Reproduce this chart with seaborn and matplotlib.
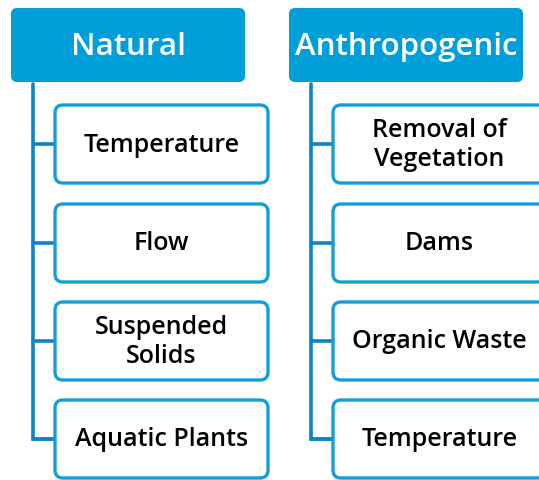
import matplotlib
matplotlib.use("Agg")
import matplotlib.pyplot as plt
import seaborn as sns
from matplotlib.patches import FancyBboxPatch

# groups and their items
groups = ["Natural", "Anthropogenic"]
natural_items = ["Temperature", "Flow", "Suspended\nSolids", "Aquatic Plants"]
anthro_items = ["Removal of\nVegetation", "Dams", "Organic Waste", "Temperature"]

HEAD_BLUE = "#009fda"
LINE_BLUE = "#0a86c2"
BOX_EDGE = "#149ed9"

sns.set_theme(style="white")
plt.rcParams['font.family'] = ['Open Sans', 'DejaVu Sans']

fig = plt.figure(figsize=(5.39, 4.80), dpi=100)
ax = fig.add_axes([0, 0, 1, 1])
ax.set_xlim(0, 539)
ax.set_ylim(480, 0)
ax.axis("off")

col_x = [11, 289]
head_w, head_h, head_y = 234, 74, 8
item_dx, item_w, item_h = 44, 213, 78
item_ys = [105, 204, 302, 400]

for gx, name, items in zip(col_x, groups, [natural_items, anthro_items]):
    ax.add_patch(FancyBboxPatch((gx + 3, head_y + 3), head_w - 6, head_h - 6,
                                boxstyle="round,pad=3,rounding_size=6",
                                facecolor=HEAD_BLUE, edgecolor=HEAD_BLUE, lw=0))
    ax.text(gx + head_w / 2, head_y + head_h / 2 + 2, name, color="white",
            fontsize=22.5, fontweight="semibold", ha="center", va="center")

    lx = gx + 22
    last_c = item_ys[-1] + item_h / 2
    ax.plot([lx, lx, gx + item_dx], [head_y + head_h + 2, last_c, last_c],
            color=LINE_BLUE, lw=2.6, solid_joinstyle="miter", zorder=1)
    for iy, label in zip(item_ys, items):
        cy = iy + item_h / 2
        ax.plot([lx, gx + item_dx], [cy, cy], color=LINE_BLUE, lw=2.6, zorder=1)
        ax.add_patch(FancyBboxPatch((gx + item_dx, iy), item_w, item_h,
                                    boxstyle="round,pad=0,rounding_size=8",
                                    facecolor="white", edgecolor=BOX_EDGE,
                                    lw=2.4, zorder=2))
        ax.text(gx + item_dx + item_w / 2, cy + 1, label, color="black",
                fontsize=18, fontweight="semibold", ha="center", va="center",
                linespacing=1.2, zorder=3)

fig.savefig("out.png", dpi=100)
